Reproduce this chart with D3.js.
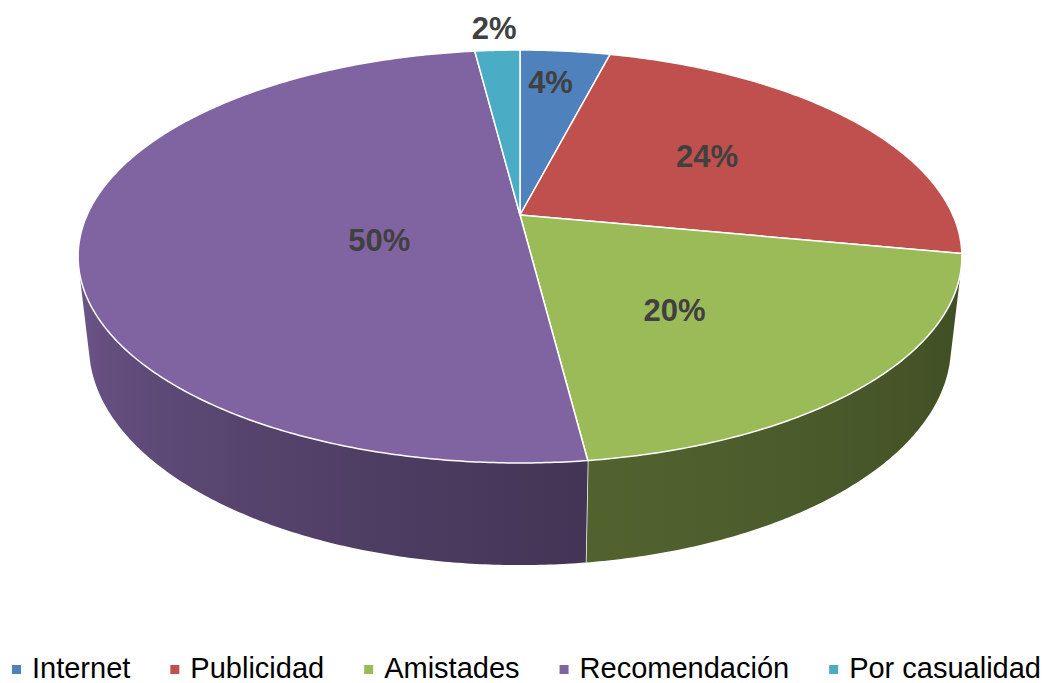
<!DOCTYPE html>
<html>
<head>
<meta charset="utf-8">
<script src="https://cdn.jsdelivr.net/npm/d3@7"></script>
<style>
  body { margin: 0; background: #fff; }
  svg { display: block; font-family: "Liberation Sans", Arial, sans-serif; }
</style>
</head>
<body>
<svg width="1043" height="683"></svg>
<script>
// data
const categories = ["Internet", "Publicidad", "Amistades", "Recomendación", "Por casualidad"];
const values = [4, 24, 20, 50, 2];
const labels = ["4%", "24%", "20%", "50%", "2%"];
const colors = ["#4f81bd", "#c0504d", "#9bbb59", "#8064a2", "#4bacc6"];

// label placement: [angle shift in degrees, radius as fraction of pie radius]
const labelPlacement = [[-1.2, 0.78], [-2.4, 0.56], [6.5, 0.545], [-14, 0.34], [0, 1.17]];

const svg = d3.select("svg");
const defs = svg.append("defs");
const rad = Math.PI / 180;

// perspective camera for the 3d pie (radius 1 in world units)
const cx = 520, cy = 215;
const tilt = 27.24 * rad;
const sa = Math.sin(tilt), ca = Math.cos(tilt);
const dist = 4.424, focal = 1915, thick = 0.234;

function project(theta, r, y) {
    const X = r * Math.sin(theta), Z = r * Math.cos(theta);
    const depth = dist + Z * ca - y * sa;
    const sy = y * ca + Z * sa;
    return [cx + focal * X / depth, cy - focal * sy / depth];
}

const pie = d3.pie().sort(null).value(d => d)(values);

// front facing part of the side wall
const limit = Math.acos(-1 / (dist * ca));
const frontA = limit, frontB = 2 * Math.PI - limit;

const shade = d3.scaleLinear().domain([100, 175, 255]).range([0.40, 0.53, 0.85]).clamp(true);

function darker(col, f) {
    const c = d3.rgb(col);
    return d3.rgb(c.r * f, c.g * f, c.b * f).formatHex();
}

const walls = svg.append("g");
const step = 0.5 * rad;
pie.forEach((p, i) => {
    const a = Math.max(p.startAngle, frontA), b = Math.min(p.endAngle, frontB);
    if (b <= a) return;
    const n = Math.ceil((b - a) / step);
    const topPts = d3.range(n + 1).map(j => project(a + (b - a) * j / n, 1, 0));
    const botPts = d3.range(n + 1).map(j => project(a + (b - a) * j / n, 1, -thick)).reverse();

    // horizontal shading gradient following the wall angle
    const xs = topPts.map(q => q[0]);
    const x0 = d3.min(xs), x1 = d3.max(xs);
    const grad = defs.append("linearGradient")
        .attr("id", "wall" + i)
        .attr("gradientUnits", "userSpaceOnUse")
        .attr("x1", x0).attr("x2", x1).attr("y1", 0).attr("y2", 0);
    const stops = d3.range(0, n + 1, 4).concat([n]).map(j => {
        const t = a + (b - a) * j / n;
        return { off: (topPts[j][0] - x0) / (x1 - x0 || 1), col: darker(colors[i], shade(t / rad)) };
    }).sort((u, v) => u.off - v.off);
    grad.selectAll("stop").data(stops).enter().append("stop")
        .attr("offset", s => s.off)
        .attr("stop-color", s => s.col);

    walls.append("path")
        .attr("d", d3.line()(topPts.concat(botPts)) + "Z")
        .attr("fill", "url(#wall" + i + ")");

    // white separator where two slices meet on the wall
    if (p.endAngle < frontB && p.endAngle > frontA) {
        walls.append("path")
            .attr("d", d3.line()([project(p.endAngle, 1, 0), project(p.endAngle, 1, -thick)]))
            .attr("stroke", "#fff")
            .attr("stroke-width", 1.5);
    }
});

// top faces
const tops = svg.append("g");
pie.forEach((p, i) => {
    const n = Math.max(4, Math.ceil((p.endAngle - p.startAngle) / step));
    const pts = [[cx, cy]];
    for (let j = 0; j <= n; j++) {
        pts.push(project(p.startAngle + (p.endAngle - p.startAngle) * j / n, 1, 0));
    }
    tops.append("path")
        .attr("d", d3.line()(pts) + "Z")
        .attr("fill", colors[i])
        .attr("stroke", "#fff")
        .attr("stroke-width", 1.5)
        .attr("stroke-linejoin", "round");
});

// data labels
svg.append("g").selectAll("text")
    .data(pie)
    .enter()
    .append("text")
    .attr("transform", (p, i) => {
        const mid = (p.startAngle + p.endAngle) / 2 + labelPlacement[i][0] * rad;
        return "translate(" + project(mid, labelPlacement[i][1], 0) + ")";
    })
    .attr("text-anchor", "middle")
    .attr("dy", "0.36em")
    .attr("font-size", 31)
    .attr("font-weight", "bold")
    .attr("fill", "#404040")
    .text((p, i) => labels[i]);

// legend
const legend = svg.append("g");
let lx = 12;
categories.forEach((name, i) => {
    legend.append("rect")
        .attr("x", lx).attr("y", 665)
        .attr("width", 9).attr("height", 9)
        .attr("fill", colors[i]);
    const t = legend.append("text")
        .attr("x", lx + 20).attr("y", 678)
        .attr("font-size", 29)
        .attr("fill", "#000")
        .text(name);
    lx += 20 + t.node().getComputedTextLength() + 40;
});
</script>
</body>
</html>
